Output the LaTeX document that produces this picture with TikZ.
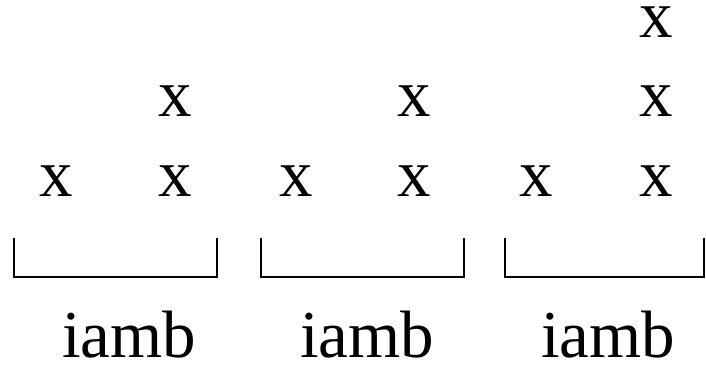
\documentclass[tikz,border=0pt]{standalone}
\usepackage{fontspec}
\setmainfont{Liberation Serif}
\begin{document}
\begin{tikzpicture}[x=1pt,y=1pt,
  beat/.style={anchor=base,inner sep=0pt,font=\fontsize{67}{72}\selectfont},
  foot/.style={anchor=base,inner sep=0pt,font=\fontsize{67}{72}\selectfont},
  bracket/.style={line width=2.5pt,line join=miter}]
\useasboundingbox (0,0) rectangle (706,364);
% bottom row
\node[beat] (a1) at (56,167) {x};
\node[beat] (a2) at (175,167) {x};
\node[beat] (a3) at (296,167) {x};
\node[beat] (a4) at (414,167) {x};
\node[beat] (a5) at (536,167) {x};
\node[beat] (a6) at (656,167) {x};
% middle row
\node[beat] (b2) at (175,247) {x};
\node[beat] (b4) at (414,247) {x};
\node[beat] (b6) at (656,247) {x};
% top row
\node[beat] (c6) at (656,326) {x};
% brackets
\draw[bracket] (14,126) -- (14,87) -- (217,87) -- (217,126);
\draw[bracket] (261,126) -- (261,87) -- (464,87) -- (464,126);
\draw[bracket] (505,126) -- (505,87) -- (704,87) -- (704,126);
% labels
\node[foot] (f1) at (129,7) {iamb};
\node[foot] (f2) at (367,7) {iamb};
\node[foot] (f3) at (608,7) {iamb};
\end{tikzpicture}
\end{document}
